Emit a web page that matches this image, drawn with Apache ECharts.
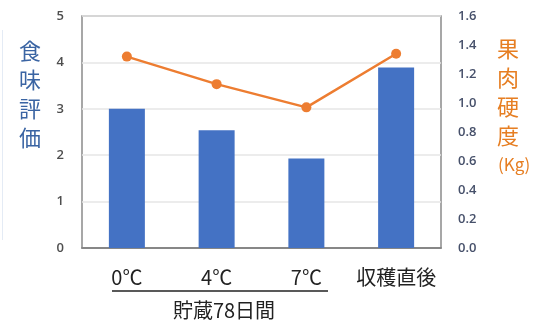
<!DOCTYPE html>
<html>
<head>
<meta charset="utf-8">
<script src="https://cdn.jsdelivr.net/npm/echarts@6/dist/echarts.min.js"></script>
<style>
  html, body { margin: 0; padding: 0; background: #fff; }
  #chart { width: 534px; height: 320px; }
</style>
</head>
<body>
<div id="chart"></div>
<script>
// Storage conditions and harvest
const categories = ['0℃', '4℃', '7℃', '収穫直後'];
// Eating-quality score (left axis)
const tasteScore = [3.0, 2.54, 1.93, 3.89];
// Flesh firmness in kg (right axis)
const firmness = [1.32, 1.13, 0.97, 1.34];
// Tick settings for both value axes
const leftTicks = { min: 0, max: 5, interval: 1 };
const rightTicks = { min: 0, max: 1.6, interval: 0.2 };

const jp = '"Noto Sans CJK JP", "Noto Sans", sans-serif';
const num = '"Open Sans", "Noto Sans", sans-serif';

const chart = echarts.init(document.getElementById('chart'), null, { renderer: 'canvas' });

chart.setOption({
  animation: false,
  backgroundColor: '#ffffff',
  grid: {
    left: 82, right: 93, top: 16, bottom: 72,
    show: true, borderColor: '#8a8a8a', borderWidth: 1.5, backgroundColor: 'transparent'
  },
  xAxis: {
    type: 'category',
    data: categories,
    axisLine: { lineStyle: { color: '#6e6e6e', width: 1.5 } },
    axisTick: { show: false },
    axisLabel: { color: '#222', fontSize: 20, fontFamily: jp, margin: 19, interval: 0 }
  },
  yAxis: [
    {
      type: 'value', min: leftTicks.min, max: leftTicks.max, interval: leftTicks.interval,
      axisLine: { show: false }, axisTick: { show: false },
      axisLabel: { color: '#4e4e4e', fontSize: 13, fontFamily: num, fontWeight: 600, margin: 18 },
      splitLine: { lineStyle: { color: '#e6e6e6', width: 1.5 } }
    },
    {
      type: 'value', min: rightTicks.min, max: rightTicks.max, interval: rightTicks.interval,
      axisLine: { show: false }, axisTick: { show: false },
      axisLabel: {
        color: '#46506a', fontSize: 13, fontFamily: num, fontWeight: 600, margin: 17,
        formatter: v => v.toFixed(1)
      },
      splitLine: { show: false }
    }
  ],
  series: [
    {
      type: 'bar', data: tasteScore, yAxisIndex: 0,
      barWidth: 36,
      itemStyle: { color: '#4472c4' }
    },
    {
      type: 'line', data: firmness, yAxisIndex: 1,
      symbol: 'circle', symbolSize: 10,
      lineStyle: { color: '#ed7d31', width: 2.5 },
      itemStyle: { color: '#ed7d31' }
    }
  ],
  graphic: [
    {
      type: 'text', left: 19, top: 36,
      style: { text: '食\n味\n評\n価', fill: '#3a64a3', font: '22px ' + jp, lineHeight: 29 }
    },
    {
      type: 'text', left: 497, top: 34,
      style: { text: '果\n肉\n硬\n度', fill: '#e67e22', font: '22px ' + jp, lineHeight: 29 }
    },
    {
      type: 'text', left: 498, top: 156,
      style: { text: '(Kg)', fill: '#e67e22', font: '17px ' + jp }
    },
    {
      type: 'line', shape: { x1: 112, y1: 291, x2: 328, y2: 291 },
      style: { stroke: '#222', lineWidth: 1.5 }
    },
    {
      type: 'text', x: 224, y: 310,
      style: { text: '貯蔵78日間', fill: '#222', font: '20px ' + jp, align: 'center', verticalAlign: 'middle' }
    },
    {
      type: 'line', shape: { x1: 2.5, y1: 30, x2: 2.5, y2: 240 },
      style: { stroke: '#e4ebf5', lineWidth: 1 }
    }
  ]
});
</script>
</body>
</html>
